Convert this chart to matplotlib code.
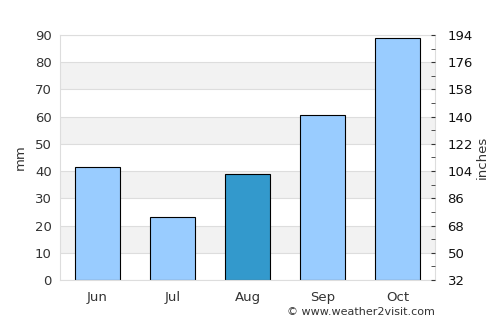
import matplotlib
matplotlib.use("Agg")
import matplotlib.pyplot as plt
import numpy as np

months = ["Jun", "Jul", "Aug", "Sep", "Oct"]
rain_mm = [41.5, 23.0, 38.8, 60.5, 89.0]
highlight = "Aug"
left_ticks = [0, 10, 20, 30, 40, 50, 60, 70, 80, 90]
right_labels = ["32", "50", "68", "86", "104", "122", "140", "158", "176", "194"]

fig = plt.figure(figsize=(5, 3.25), dpi=100)
ax = fig.add_axes([0.12, 0.1385, 0.75, 0.7538])
x = np.arange(len(months))
for lo in range(10, 90, 20):
    ax.axhspan(lo, lo + 10, color="#f2f2f2", zorder=0, lw=0)
for t in left_ticks:
    ax.axhline(t, color="#dddddd", lw=0.8, zorder=0.5)
colors = ["#3399cc" if m == highlight else "#99ccff" for m in months]
ax.bar(x, rain_mm, width=0.6, color=colors, edgecolor="black", linewidth=0.8, zorder=2)
ax.set_xlim(-0.5, len(months) - 0.5)
ax.set_ylim(0, 90)
ax.set_yticks(left_ticks)
ax.set_xticks(x)
ax.set_xticklabels(months)
ax.tick_params(axis="both", length=0, colors="#333333", labelsize=9.5, pad=6)
ax.tick_params(axis="x", pad=8)
for s in ax.spines.values():
    s.set_color("#dddddd")
ax.set_ylabel("mm", color="#333333", fontsize=9.5, labelpad=6)

ax2 = ax.twinx()
ax2.set_ylim(0, 90)
ax2.set_yticks(left_ticks)
ax2.set_yticklabels(right_labels)
ax2.set_yticks(np.arange(5, 90, 10), minor=True)
ax2.tick_params(axis="y", which="both", direction="in", length=3, color="#333333", labelsize=9.5, pad=9, colors="#111111")
for s in ax2.spines.values():
    s.set_visible(False)
ax2.set_ylabel("inches", color="#333333", fontsize=9.5, labelpad=2)

fig.text(0.87, 0.025, "© www.weather2visit.com", ha="right", va="bottom", fontsize=8, color="#333333")
fig.savefig("out.png", dpi=100)
